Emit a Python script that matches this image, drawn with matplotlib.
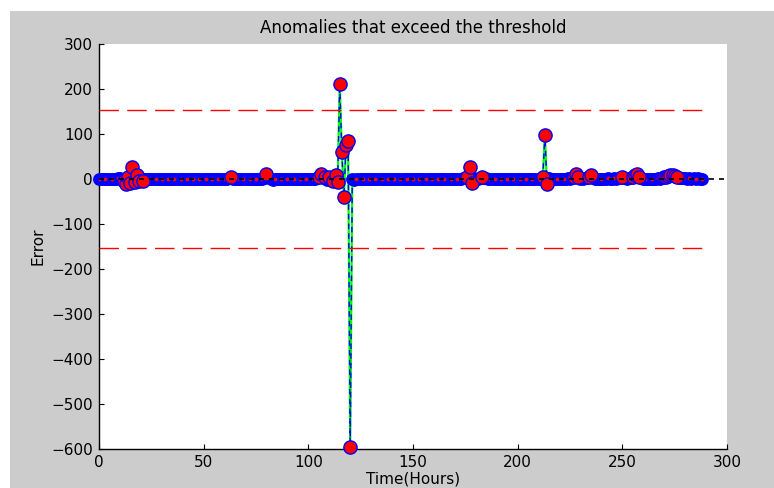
import numpy as np
import matplotlib
matplotlib.use("Agg")
import matplotlib.pyplot as plt
from matplotlib.patches import Rectangle

# ---- data (hourly error values) ----
day00 = [0, 0, 1, 0, -1, 0, 0, 1, 0, 2, 3, -2, -5, -10, 5, -8, 27, -6, 8, -5, 3, -4, 1, 0]
day01 = [0, 1, 0, 0, -1, 0, 0, 1, 0, 0, 0, -1, 0, 0, 1, 0, 0, 0, -1, 0, 0, 1, 0, 0]
day02 = [0, 0, 1, 0, 0, -1, 0, 0, 0, 1, 0, 0, -1, 0, 2, 4, 1, 0, 0, -1, 0, 0, 1, 0]
day03 = [0, 0, 1, 0, 0, -1, 0, 2, 12, 3, 0, -3, 0, 1, 0, 0, -1, 0, 0, 1, 0, 0, -1, 0]
day04 = [0, 1, 0, 0, -1, 0, 0, 1, 2, 4, 12, 3, 5, -3, 4, 2, -5, 8, -6, 212, 60, -40, 75, 85]
day05 = [-595, 0, -2, 1, 0, 0, -1, 0, 0, 1, 0, 0, -1, 0, 0, 1, 0, 0, 0, -1, 0, 0, 1, 0]
day06 = [0, -1, 0, 0, 1, 0, 0, 0, -1, 0, 0, 1, 0, 0, -1, 0, 0, 1, 0, 0, 0, -1, 0, 0]
day07 = [0, 1, 0, 0, -1, 0, 2, 3, 5, 27, -8, 2, 0, 1, 3, 5, 2, 3, 1, 0, -1, 0, 1, 0]
day08 = [0, 0, -1, 0, 1, 0, 0, -1, 0, 0, 1, 0, 0, -1, 0, 1, 0, 0, 1, 2, 4, 97, -12, 3]
day09 = [0, 1, 0, -1, 0, 1, 0, 0, 2, 1, 3, 5, 12, 4, 1, 0, 2, 3, 5, 8, 3, 1, 0, -1]
day10 = [0, 1, 0, 2, 1, 0, 3, 1, 2, 3, 5, 3, 1, 2, 3, 5, 8, 12, 4, 2, 1, 0, 1, 0]
day11 = [0, 1, 0, 2, 1, 3, 4, 5, 6, 8, 10, 7, 4, 3, 2, 3, 2, 1, 2, 1, 2, 1, 2, 1]
day12 = [0]

errors = np.array(day00 + day01 + day02 + day03 + day04 + day05 + day06 +
                  day07 + day08 + day09 + day10 + day11 + day12, dtype=float)
hours = np.arange(len(errors))

threshold = 154
anomaly_min = 4

x_ticks = [0, 50, 100, 150, 200, 250, 300]
y_ticks = [-600, -500, -400, -300, -200, -100, 0, 100, 200, 300]

# ---- figure ----
W, H = 774, 488
fig = plt.figure(figsize=(W / 100, H / 100), dpi=100, facecolor="white")
fig.patches.append(Rectangle((10 / W, 0), 1 - 10 / W, (H - 11) / H,
                             transform=fig.transFigure, facecolor="#cccccc",
                             edgecolor="none", zorder=-10))

ax = fig.add_axes([99 / W, 1 - 449 / H, (727 - 99) / W, (449 - 44) / H])
ax.set_zorder(1)
ax.set_facecolor("white")

font = "DejaVu Sans"

# lines
ax.plot(hours, errors, color="#00ff00", lw=1.6, zorder=2)
ax.plot(hours, errors, color="blue", lw=1.0, ls=(0, (4, 3)), zorder=3)
# dense marker band
ax.plot(hours, errors, ls="none", marker="o", ms=8.2, mfc="blue", mec="blue",
        zorder=4, clip_on=False)
# small red dots within the band
ax.plot(hours[::3], errors[::3], ls="none", marker="o", ms=1.7, mfc="red",
        mec="red", zorder=5)
# anomaly markers
mask = np.abs(errors) >= anomaly_min
ax.plot(hours[mask], errors[mask], ls="none", marker="o", ms=9.5, mfc="red",
        mec="blue", mew=1.0, zorder=6, clip_on=False)

# zero line
ax.plot([0, 300], [0, 0], color="black", lw=1.2, ls=(0, (3, 3)), zorder=7)
# thresholds
ax.plot([hours[0], hours[-1]], [threshold, threshold], color="red", lw=1.0,
        ls=(0, (14, 6)), zorder=7)
ax.plot([hours[0], hours[-1]], [-threshold, -threshold], color="red", lw=1.0,
        ls=(0, (14, 6)), zorder=7)

ax.set_xlim(0, 300)
ax.set_ylim(-600, 300)
ax.set_xticks(x_ticks)
ax.set_yticks(y_ticks)
ax.tick_params(direction="in", length=3.5, width=0.8, labelsize=11, pad=4.5,
               colors="black")
for lab in ax.get_xticklabels() + ax.get_yticklabels():
    lab.set_family(font)
ax.spines["top"].set_visible(False)
ax.spines["right"].set_visible(False)
for s in ("left", "bottom"):
    ax.spines[s].set_linewidth(1.0)
    ax.spines[s].set_color("black")

fig.text(413 / W, 1 - 28 / H, "Anomalies that exceed the threshold",
         ha="center", va="center", fontsize=12, family=font)
fig.text(413 / W, 1 / H, "Time(Hours)", ha="center", va="bottom",
         fontsize=11, family=font)
fig.text(38 / W, 1 - 246 / H, "Error", ha="center", va="center",
         rotation=90, fontsize=11, family=font)

fig.savefig("out.png", dpi=100, facecolor=fig.get_facecolor())
